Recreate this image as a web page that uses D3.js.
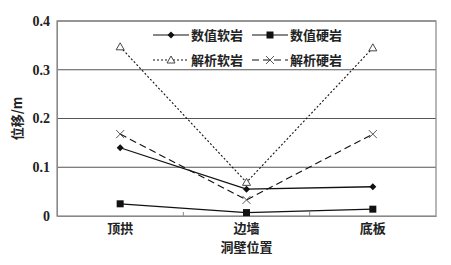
<!DOCTYPE html>
<html>
<head>
<meta charset="utf-8">
<script src="https://cdn.jsdelivr.net/npm/d3@7"></script>
<style>
  body { margin: 0; background: #fff; }
  svg { display: block; }
</style>
</head>
<body>
<div id="chart"></div>
<script>
const categories = ["顶拱", "边墙", "底板"];
const numSoft = [0.140, 0.055, 0.060];
const numHard = [0.025, 0.007, 0.014];
const anaSoft = [0.347, 0.069, 0.345];
const anaHard = [0.168, 0.033, 0.168];
const yTicks = [0, 0.1, 0.2, 0.3, 0.4];

const series = [
  { name: "数值软岩", values: numSoft, dash: null, marker: "diamond" },
  { name: "数值硬岩", values: numHard, dash: null, marker: "square" },
  { name: "解析软岩", values: anaSoft, dash: "2,2", marker: "triangle" },
  { name: "解析硬岩", values: anaHard, dash: "7,4", marker: "cross" }
];

const width = 451, height = 265;
const margin = { top: 21, right: 15, bottom: 49, left: 57 };

const svg = d3.select("#chart").append("svg")
  .attr("width", width)
  .attr("height", height);

const x = d3.scaleBand()
  .domain(categories)
  .range([margin.left, width - margin.right]);

const y = d3.scaleLinear()
  .domain([0, 0.4])
  .range([height - margin.bottom, margin.top]);

const numFont = "'Liberation Serif', 'DejaVu Serif', serif";
const cjkFont = "'Noto Sans CJK SC', sans-serif";

// grid lines
svg.append("g")
  .selectAll("line")
  .data(yTicks.filter(d => d > 0))
  .join("line")
    .attr("x1", margin.left)
    .attr("x2", width - margin.right)
    .attr("y1", d => y(d))
    .attr("y2", d => y(d))
    .attr("stroke", "#555")
    .attr("stroke-width", 1);

// plot frame
svg.append("rect")
  .attr("x", margin.left)
  .attr("y", margin.top)
  .attr("width", width - margin.right - margin.left)
  .attr("height", height - margin.bottom - margin.top)
  .attr("fill", "none")
  .attr("stroke", "#888")
  .attr("stroke-width", 1.2);

// y axis
const yAxis = svg.append("g")
  .attr("transform", `translate(${margin.left},0)`)
  .call(d3.axisLeft(y).tickValues(yTicks).tickSize(0).tickPadding(7)
    .tickFormat(d => d === 0 ? "0" : d3.format(".1f")(d)));
yAxis.select(".domain").attr("stroke", "#888");
yAxis.selectAll("text")
  .attr("font-family", numFont)
  .attr("font-weight", "bold")
  .attr("font-size", 14)
  .attr("fill", "#222");

// x axis
const xAxis = svg.append("g")
  .attr("transform", `translate(0,${height - margin.bottom})`)
  .call(d3.axisBottom(x).tickSize(0).tickPadding(8));
xAxis.select(".domain").attr("stroke", "#888").attr("stroke-width", 1.2);
xAxis.selectAll("text")
  .attr("font-family", cjkFont)
  .attr("font-weight", "bold")
  .attr("font-size", 13)
  .attr("fill", "#222");

// boundary ticks pointing into the plot
svg.append("g")
  .selectAll("line")
  .data(categories.slice(1))
  .join("line")
    .attr("x1", d => x(d))
    .attr("x2", d => x(d))
    .attr("y1", y(0))
    .attr("y2", y(0) - 4)
    .attr("stroke", "#888");

// axis titles
svg.append("text")
  .attr("transform", `translate(22,${(margin.top + height - margin.bottom) / 2}) rotate(-90)`)
  .attr("text-anchor", "middle")
  .attr("font-family", cjkFont)
  .attr("font-weight", "bold")
  .attr("font-size", 13)
  .attr("fill", "#222")
  .text("位移/m");

svg.append("text")
  .attr("x", (margin.left + width - margin.right) / 2)
  .attr("y", 252)
  .attr("text-anchor", "middle")
  .attr("font-family", cjkFont)
  .attr("font-weight", "bold")
  .attr("font-size", 13)
  .attr("fill", "#222")
  .text("洞壁位置");

const cx = d => x(d) + x.bandwidth() / 2;

function drawMarker(g, type, px, py) {
  if (type === "diamond") {
    g.append("path")
      .attr("d", `M${px},${py - 3.5}L${px + 3.5},${py}L${px},${py + 3.5}L${px - 3.5},${py}Z`)
      .attr("fill", "#111");
  } else if (type === "square") {
    g.append("rect")
      .attr("x", px - 3.5).attr("y", py - 3.5)
      .attr("width", 7).attr("height", 7)
      .attr("fill", "#111");
  } else if (type === "triangle") {
    g.append("path")
      .attr("d", `M${px},${py - 4}L${px + 4},${py + 3}L${px - 4},${py + 3}Z`)
      .attr("fill", "#fff")
      .attr("stroke", "#333")
      .attr("stroke-width", 0.9);
  } else {
    g.append("path")
      .attr("d", `M${px - 4},${py - 4}L${px + 4},${py + 4}M${px + 4},${py - 4}L${px - 4},${py + 4}`)
      .attr("stroke", "#444")
      .attr("stroke-width", 0.9);
  }
}

const line = d3.line()
  .x((d, i) => cx(categories[i]))
  .y(d => y(d));

series.forEach(s => {
  const g = svg.append("g");
  g.append("path")
    .datum(s.values)
    .attr("d", line)
    .attr("fill", "none")
    .attr("stroke", "#111")
    .attr("stroke-width", s.dash ? 1.1 : 1.3)
    .attr("stroke-dasharray", s.dash);
  s.values.forEach((v, i) => drawMarker(g, s.marker, cx(categories[i]), y(v)));
});

// legend
const legendPos = [[153, 35], [252, 35], [153, 60], [252, 60]];
series.forEach((s, i) => {
  const [lx, ly] = legendPos[i];
  const g = svg.append("g").attr("transform", `translate(${lx},${ly})`);
  g.append("rect")
    .attr("x", -2).attr("y", -9).attr("width", 94).attr("height", 18)
    .attr("fill", "#fff");
  g.append("line")
    .attr("x1", 0).attr("x2", 36)
    .attr("stroke", "#111")
    .attr("stroke-width", 1.2)
    .attr("stroke-dasharray", s.dash);
  drawMarker(g, s.marker, 18, 0);
  g.append("text")
    .attr("x", 38)
    .attr("dy", "0.36em")
    .attr("font-family", cjkFont)
    .attr("font-weight", "bold")
    .attr("font-size", 13)
    .attr("fill", "#222")
    .text(s.name);
});
</script>
</body>
</html>
